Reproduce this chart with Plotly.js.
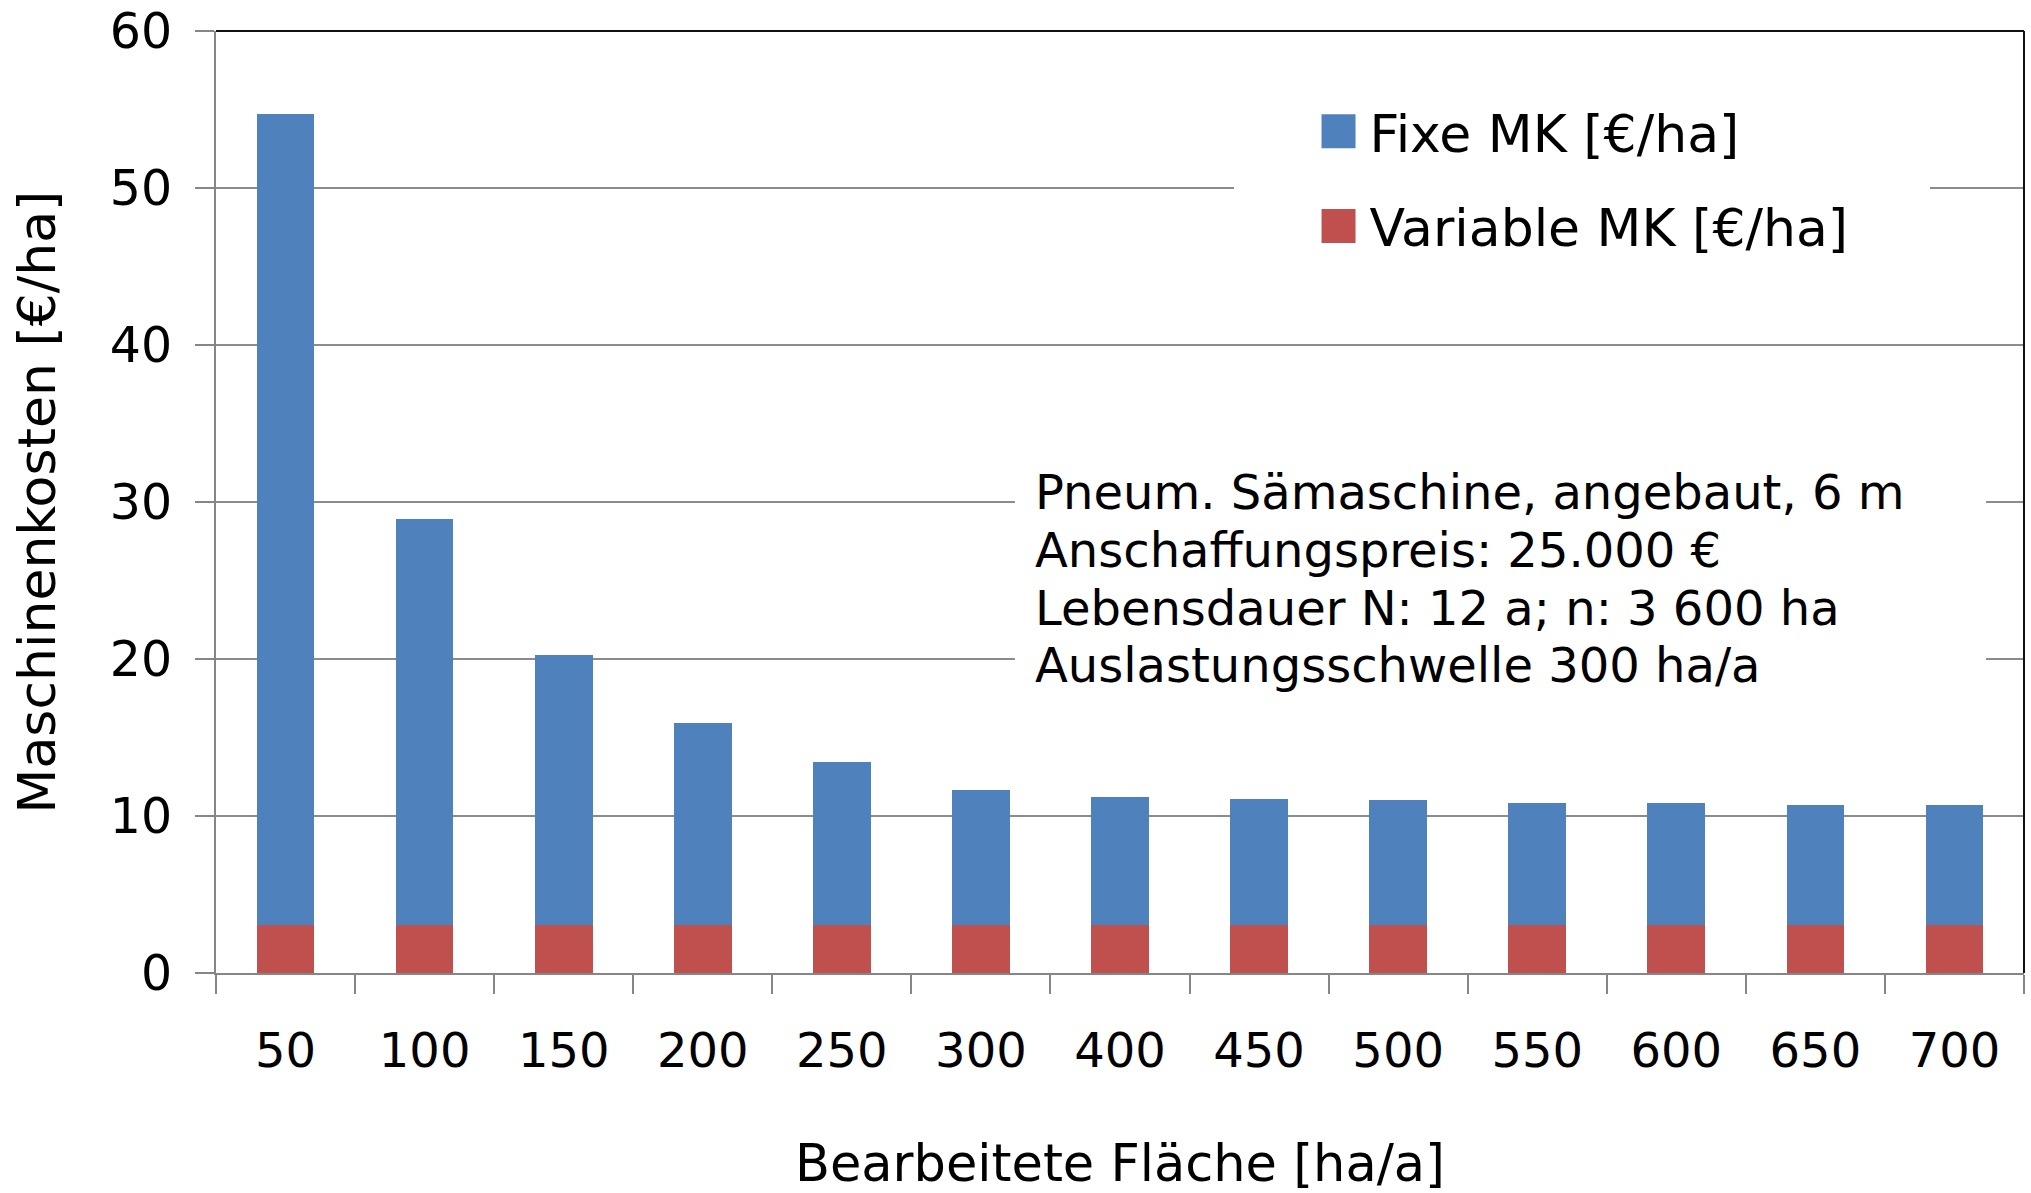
<!DOCTYPE html>
<html>
<head>
<meta charset="utf-8">
<script src="https://cdn.plot.ly/plotly-3.0.1.min.js"></script>
<style>
  html, body { margin: 0; padding: 0; background: #ffffff; }
  #chart { width: 2031px; height: 1193px; }
</style>
</head>
<body>
<div id="chart"></div>
<script>
// Bearbeitete Fläche [ha/a] (categories, note: no 350)
const categories = ['50', '100', '150', '200', '250', '300', '400', '450', '500', '550', '600', '650', '700'];
// Variable Maschinenkosten [€/ha]
const variableMK = [3.07, 3.07, 3.07, 3.07, 3.07, 3.07, 3.07, 3.07, 3.07, 3.07, 3.07, 3.07, 3.07];
// Fixe Maschinenkosten [€/ha]
const fixeMK = [51.63, 25.83, 17.19, 12.85, 10.39, 8.60, 8.17, 8.03, 7.92, 7.77, 7.77, 7.62, 7.62];
// Y-axis ticks
const yTicks = [0, 10, 20, 30, 40, 50, 60];
// Info text lines
const infoLines = [
  'Pneum. Sämaschine, angebaut, 6 m',
  'Anschaffungspreis: 25.000 €',
  'Lebensdauer N: 12 a; n: 3 600 ha',
  'Auslastungsschwelle 300 ha/a'
];

const FONT = 'DejaVu Sans, Verdana, sans-serif';
const infoY = [0.5106, 0.4490, 0.3875, 0.3270];

const traces = [
  {
    type: 'bar', name: 'Variable MK [€/ha]', x: categories, y: variableMK,
    marker: { color: '#C0504D' }, legendgroup: 'v', legendrank: 2, hoverinfo: 'skip'
  },
  {
    type: 'bar', name: 'Fixe MK [€/ha]', x: categories, y: fixeMK,
    marker: { color: '#4F81BD' }, legendgroup: 'f', legendrank: 1, hoverinfo: 'skip'
  }
];

const layout = {
  width: 2031, height: 1193,
  margin: { l: 216, r: 7, t: 31, b: 220, pad: 0 },
  paper_bgcolor: '#ffffff', plot_bgcolor: '#ffffff',
  font: { family: FONT, size: 48, color: '#000000' },
  barmode: 'stack',
  bargap: 0.585,
  showlegend: true,
  legend: {
    x: 0.5993, xanchor: 'left', y: 0.9363, yanchor: 'top',
    bgcolor: 'rgba(0,0,0,0)', borderwidth: 0,
    font: { family: FONT, size: 52, color: '#000000' },
    traceorder: 'grouped', tracegroupgap: 24,
    itemwidth: 60
  },
  xaxis: {
    type: 'category', range: [-0.5, 12.5],
    tickson: 'boundaries', ticks: 'outside', ticklen: 19, tickwidth: 2, tickcolor: '#868686',
    showline: true, linecolor: '#868686', linewidth: 2,
    showgrid: false, zeroline: false,
    tickfont: { family: FONT, size: 48, color: '#000000' },
    ticklabelstandoff: 34,
    title: { text: 'Bearbeitete Fläche [ha/a]', font: { family: FONT, size: 51, color: '#000000' }, standoff: 71 },
    automargin: false, fixedrange: true
  },
  yaxis: {
    range: [0, 60], tickvals: yTicks, ticktext: yTicks.map(String),
    ticks: 'outside', ticklen: 19, tickwidth: 2, tickcolor: '#868686',
    showline: true, linecolor: '#868686', linewidth: 2,
    showgrid: true, gridcolor: '#8c8c8c', gridwidth: 2,
    zeroline: false,
    tickfont: { family: FONT, size: 49, color: '#000000' },
    ticklabelstandoff: 13,
    title: { text: 'Maschinenkosten [€/ha]', font: { family: FONT, size: 52, color: '#000000' }, standoff: 38 },
    automargin: false, fixedrange: true
  },
  shapes: [
    // top & right plot border
    { type: 'line', xref: 'paper', yref: 'paper', x0: 0, x1: 1, y0: 1, y1: 1, line: { color: '#111111', width: 2 } },
    { type: 'line', xref: 'paper', yref: 'paper', x0: 1, x1: 1, y0: 0, y1: 1, line: { color: '#111111', width: 2 } },
    // legend background
    { type: 'rect', xref: 'paper', yref: 'paper', x0: 0.5631, x1: 0.948, y0: 0.7357, y1: 0.9692,
      fillcolor: '#ffffff', line: { width: 0 }, layer: 'above' },
    // info text background
    { type: 'rect', xref: 'paper', yref: 'paper', x0: 0.4419, x1: 0.979, y0: 0.2792, y1: 0.5499,
      fillcolor: '#ffffff', line: { width: 0 }, layer: 'above' }
  ],
  annotations: infoLines.map((t, i) => ({
    text: t, xref: 'paper', yref: 'paper', x: 0.4519, y: infoY[i],
    xanchor: 'left', yanchor: 'middle', align: 'left', showarrow: false,
    font: { family: FONT, size: 48, color: '#000000' }
  }))
};

Plotly.newPlot('chart', traces, layout, { displayModeBar: false, staticPlot: true }).then(() => {
  document.querySelectorAll('#chart .legend .traces .legendpoints path').forEach(p => {
    p.setAttribute('d', 'M21,17H-13V-17H21Z');
  });
});
</script>
</body>
</html>
